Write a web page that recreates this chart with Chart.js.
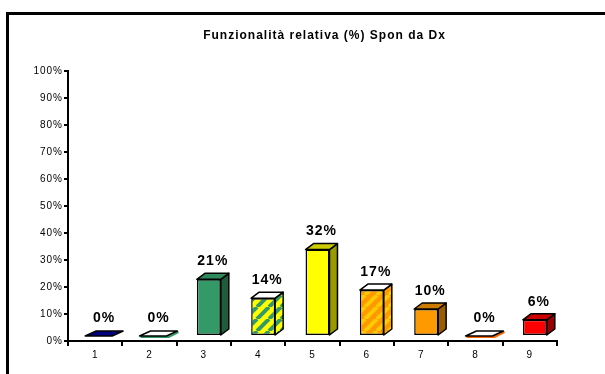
<!DOCTYPE html>
<html>
<head>
<meta charset="utf-8">
<script src="https://cdn.jsdelivr.net/npm/chart.js@4/dist/chart.umd.min.js"></script>
<style>
  html, body { margin: 0; padding: 0; background: #fff; }
</style>
</head>
<body>
<canvas id="canvas" width="605" height="374"></canvas>
<script>
var categories = ['1', '2', '3', '4', '5', '6', '7', '8', '9'];
var values = [0, 0, 21, 14, 32, 17, 10, 0, 6];
var title = 'Funzionalità relativa (%) Spon da Dx';

// diagonal stripe fill used by bars 4 and 6
function stripes(bg, fg, size, lw) {
  var c = document.createElement('canvas');
  c.width = size; c.height = size;
  var g = c.getContext('2d');
  g.fillStyle = bg;
  g.fillRect(0, 0, size, size);
  g.strokeStyle = fg;
  g.lineWidth = lw;
  g.beginPath();
  for (var k = -1; k <= 1; k++) {
    g.moveTo(k * size, size);
    g.lineTo(k * size + size, 0);
  }
  g.stroke();
  return g.createPattern(c, 'repeat');
}

var greenYellow = stripes('#ffff00', '#339966', 12, 4);
var orangeYellow = stripes('#ff9900', '#ffcc00', 12, 4);

var frontColors = ['#000080', '#ffffff', '#339966', greenYellow, '#ffff00', orangeYellow, '#ff9900', '#ffffff', '#ff0000'];
var topColors   = ['#000080', '#ffffff', '#2e8a5c', '#ffffff', '#cccc00', '#ffffff', '#cc7a00', '#ffffff', '#cc0000'];
var sideColors  = ['#000060', '#ffffff', '#1f5c3d', greenYellow, '#999900', orangeYellow, '#995c00', '#ffffff', '#990000'];
var edgeColors  = [null, '#339966', null, null, null, null, null, '#ff6600', null];

var SHIFT_X = 5, SHIFT_Y = -5, DX = 8, DY = 6;
var FONT = '"Liberation Sans", Arial, sans-serif';

var frame = {
  id: 'frame',
  afterLayout: function(chart) {
    // title sits a bit right of the plot centre
    if (chart.titleBlock) {
      chart.titleBlock.left += 12;
      chart.titleBlock.right += 12;
    }
  },
  beforeDraw: function(chart) {
    var ctx = chart.ctx;
    ctx.save();
    ctx.fillStyle = '#fff';
    ctx.fillRect(0, 0, chart.width, chart.height);
    ctx.strokeStyle = '#000';
    ctx.lineWidth = 3;
    ctx.strokeRect(7.5, 13.5, 700, 500);
    ctx.restore();
    // loose spacing for all the chart text
    ctx.letterSpacing = '1px';
  }
};

var box3d = {
  id: 'box3d',
  beforeDatasetsDraw: function(chart) {
    chart.ctx.save();
    chart.ctx.translate(SHIFT_X, SHIFT_Y);
  },
  afterDatasetsDraw: function(chart) {
    var ctx = chart.ctx;
    var meta = chart.getDatasetMeta(0);
    ctx.lineWidth = 1.5;
    ctx.strokeStyle = '#000';
    ctx.lineJoin = 'round';
    meta.data.forEach(function(bar, i) {
      var p = bar.getProps(['x', 'y', 'base', 'width'], true);
      var l = p.x - p.width / 2, r = p.x + p.width / 2, t = p.y, b = p.base;
      var dx = DX, dy = DY;
      if (b - t > 0.5) {
        ctx.beginPath();
        ctx.moveTo(r, t);
        ctx.lineTo(r + dx, t - dy);
        ctx.lineTo(r + dx, b - dy);
        ctx.lineTo(r, b);
        ctx.closePath();
        ctx.fillStyle = sideColors[i];
        ctx.fill();
        ctx.stroke();
      } else {
        // flat bars lean a little further back
        l -= 3; dx = 11; dy = 5;
        if (edgeColors[i]) {
          ctx.save();
          ctx.strokeStyle = edgeColors[i];
          ctx.lineWidth = 2;
          ctx.beginPath();
          ctx.moveTo(l + 1, b + 1);
          ctx.lineTo(r + 2, b + 1);
          ctx.lineTo(r + dx + 1, b - dy + 1);
          ctx.stroke();
          ctx.restore();
        }
      }
      ctx.beginPath();
      ctx.moveTo(l, t);
      ctx.lineTo(r, t);
      ctx.lineTo(r + dx, t - dy);
      ctx.lineTo(l + dx, t - dy);
      ctx.closePath();
      ctx.fillStyle = topColors[i];
      ctx.fill();
      ctx.stroke();

      ctx.save();
      ctx.fillStyle = '#000';
      ctx.font = 'bold 14px ' + FONT;
      ctx.letterSpacing = '1px';
      ctx.textAlign = 'center';
      ctx.textBaseline = 'middle';
      ctx.fillText(values[i] + '%', p.x + DX / 2, t - DY - 12);
      ctx.restore();
    });
    ctx.restore();
  }
};

new Chart(document.getElementById('canvas').getContext('2d'), {
  type: 'bar',
  data: {
    labels: categories,
    datasets: [{
      data: values,
      backgroundColor: frontColors,
      borderColor: '#000',
      borderWidth: 1.5,
      borderSkipped: false,
      barPercentage: 0.9,
      categoryPercentage: 0.49
    }]
  },
  options: {
    responsive: false,
    animation: false,
    devicePixelRatio: 1,
    layout: { padding: { left: 8, right: 48, top: 0, bottom: 0 } },
    plugins: {
      legend: { display: false },
      tooltip: { enabled: false },
      title: {
        display: true,
        fullSize: false,
        text: title,
        color: '#000',
        font: { family: FONT, size: 12, weight: 'bold' },
        padding: { top: 28, bottom: 28.6 }
      }
    },
    scales: {
      x: {
        afterFit: function(s) { s.height = 33; },
        grid: { offset: true, drawOnChartArea: false, drawTicks: true, tickLength: 5, color: '#000', lineWidth: 2 },
        border: { display: true, color: '#000', width: 2 },
        ticks: { color: '#000', padding: 3, font: { family: FONT, size: 10 } }
      },
      y: {
        min: 0,
        max: 100,
        afterFit: function(s) { s.width = 60; },
        grid: { drawOnChartArea: false, drawTicks: true, tickLength: 4, color: '#000', lineWidth: 2 },
        border: { display: true, color: '#000', width: 2 },
        ticks: {
          stepSize: 10,
          color: '#000',
          padding: 1,
          font: { family: FONT, size: 10 },
          callback: function(v) { return v + '%'; }
        }
      }
    }
  },
  plugins: [frame, box3d]
});
</script>
</body>
</html>
